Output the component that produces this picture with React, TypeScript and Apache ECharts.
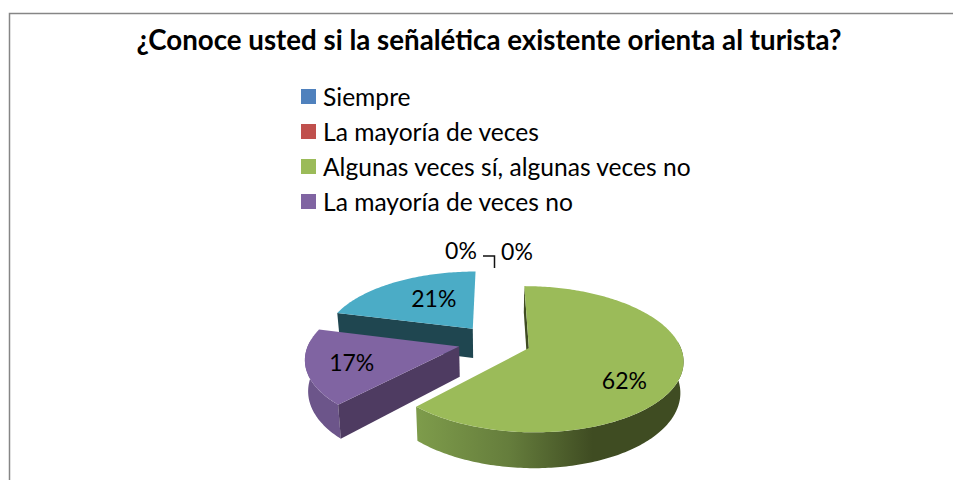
import React, { useEffect, useRef } from "react";
import * as echarts from "echarts";

const titleText = "¿Conoce usted si la señalética existente orienta al turista?";
const categories = ["Siempre", "La mayoría de veces", "Algunas veces sí, algunas veces no", "La mayoría de veces no", "Nunca"];
const legendCategories = ["Siempre", "La mayoría de veces", "Algunas veces sí, algunas veces no", "La mayoría de veces no"];
const values = [0, 0, 62, 17, 21];
const labels = ["0%", "0%", "62%", "17%", "21%"];
const colors = ["#4f81bd", "#c0504d", "#9bbb59", "#8064a2", "#4bacc6"];

const FONT = "Lato, sans-serif";
const CX = 494.5, CY = 341.8, A = 150, B = 69.5, K = 0.15, DEPTH = 30, SHRINK = 0.983, EXPLODE = 0.243;
const RAD = Math.PI / 180;

// perspective projection of a point on the pie's plane
const project = (u: number, v: number, down: boolean): number[] => {
  const w = 1 + K * v;
  const x = (A * u) / w;
  const y = (-B * v) / w;
  return down ? [CX + x * SHRINK, CY + y + DEPTH / w] : [CX + x, CY + y];
};

const total = values.reduce((a, b) => a + b, 0);
const startOf = (i: number) => (values.slice(0, i).reduce((a, b) => a + b, 0) / total) * 360;

const sideFill: Record<number, any> = {
  2: new echarts.graphic.LinearGradient(0, 0, 1, 0, [
    { offset: 0, color: "#7e9c4b" },
    { offset: 0.35, color: "#657d3c" },
    { offset: 0.66, color: "#3f4c22" },
    { offset: 1, color: "#3f4c22" },
  ]),
  3: "#6c558a",
  4: "#1f4650",
};
const radialFill: Record<number, string> = { 2: "#3f4c22", 3: "#4e3b61", 4: "#1f4650" };
const labelPlace: Record<number, number[]> = { 2: [126, 0.71], 3: [253, 0.71], 4: [329.6, 0.59] };
const zeroLabelXY: Record<number, number[]> = { 0: [461, 249.5], 1: [517, 250.5] };

const renderSlice = (i: number) => (_params: any, api: any) => {
  const value = api.value(0);
  const children: any[] = [];
  const textStyle = { fill: "#000", font: `23px ${FONT}`, align: "center", verticalAlign: "middle" };
  if (value === 0) {
    const [x, y] = zeroLabelXY[i];
    children.push({ type: "text", x, y, style: { ...textStyle, text: labels[i] } });
    return { type: "group", children };
  }
  const a0 = startOf(i);
  const a1 = a0 + (value / total) * 360;
  const mid = ((a0 + a1) / 2) * RAD;
  const u0 = EXPLODE * Math.sin(mid);
  const v0 = EXPLODE * Math.cos(mid);
  const pt = (deg: number, down: boolean) =>
    project(u0 + Math.sin(deg * RAD), v0 + Math.cos(deg * RAD), down);
  const arc = (from: number, to: number, down: boolean) => {
    const out: number[][] = [];
    const n = Math.max(2, Math.ceil(Math.abs(to - from)));
    for (let k = 0; k <= n; k++) out.push(pt(from + ((to - from) * k) / n, down));
    return out;
  };
  const apexT = project(u0, v0, false), apexB = project(u0, v0, true);
  // outer wall, front part only
  const wallFrom = Math.max(a0, 85);
  const wallTo = Math.min(a1, 275);
  if (wallTo > wallFrom) {
    children.push({
      type: "polygon",
      shape: { points: [...arc(wallFrom, wallTo, false), ...arc(wallTo, wallFrom, true)] },
      style: { fill: sideFill[i] },
    });
  }
  // straight cut face seen by the viewer (the wedge's starting edge)
  children.push({
    type: "polygon",
    shape: { points: [apexT, pt(a0, false), pt(a0, true), apexB] },
    style: { fill: radialFill[i] },
  });
  // top face
  children.push({
    type: "polygon",
    shape: { points: [apexT, ...arc(a0, a1, false)] },
    style: { fill: colors[i] },
  });
  const [deg, r] = labelPlace[i];
  const [lx, ly] = project(u0 + r * Math.sin(deg * RAD), v0 + r * Math.cos(deg * RAD), false);
  children.push({ type: "text", x: lx, y: ly, style: { ...textStyle, text: labels[i] } });
  return { type: "group", children };
};

const drawOrder: Record<number, number> = { 0: 5, 1: 5, 2: 4, 3: 3, 4: 2 };

export default function App() {
  const ref = useRef<HTMLDivElement>(null);
  useEffect(() => {
    const chart = echarts.init(ref.current!, undefined, { renderer: "svg" });
    chart.setOption({
      animation: false,
      backgroundColor: "#fff",
      title: {
        text: titleText,
        left: 484,
        textAlign: "center",
        top: 20,
        textStyle: { fontFamily: FONT, fontSize: 27.7, fontWeight: "bold", color: "#000" },
      },
      legend: {
        data: legendCategories,
        orient: "vertical",
        left: 301,
        top: 84,
        padding: 0,
        itemWidth: 15,
        itemHeight: 15,
        itemGap: 10,
        selectedMode: false,
        icon: "rect",
        textStyle: { fontFamily: FONT, fontSize: 24.6, lineHeight: 25, color: "#000", padding: [0, 0, 0, 2] },
      },
      graphic: [
        {
          type: "polyline",
          shape: { points: [[9.5, 480], [9.5, 13.5], [953, 13.5]] },
          style: { stroke: "#868686", lineWidth: 1.5, fill: "none" },
        },
        {
          type: "polyline",
          shape: { points: [[483, 256], [494.5, 256], [494.5, 268]] },
          style: { stroke: "#111", lineWidth: 1.5, fill: "none" },
        },
      ],
      series: categories.map((name, i) => ({
        type: "custom",
        name,
        coordinateSystem: "none",
        z: drawOrder[i],
        silent: true,
        itemStyle: { color: colors[i] },
        data: [[values[i]]],
        renderItem: renderSlice(i),
      })),
    });
    return () => chart.dispose();
  }, []);
  return <div ref={ref} style={{ position: "fixed", left: 0, top: 0, width: 953, height: 480 }} />;
}
